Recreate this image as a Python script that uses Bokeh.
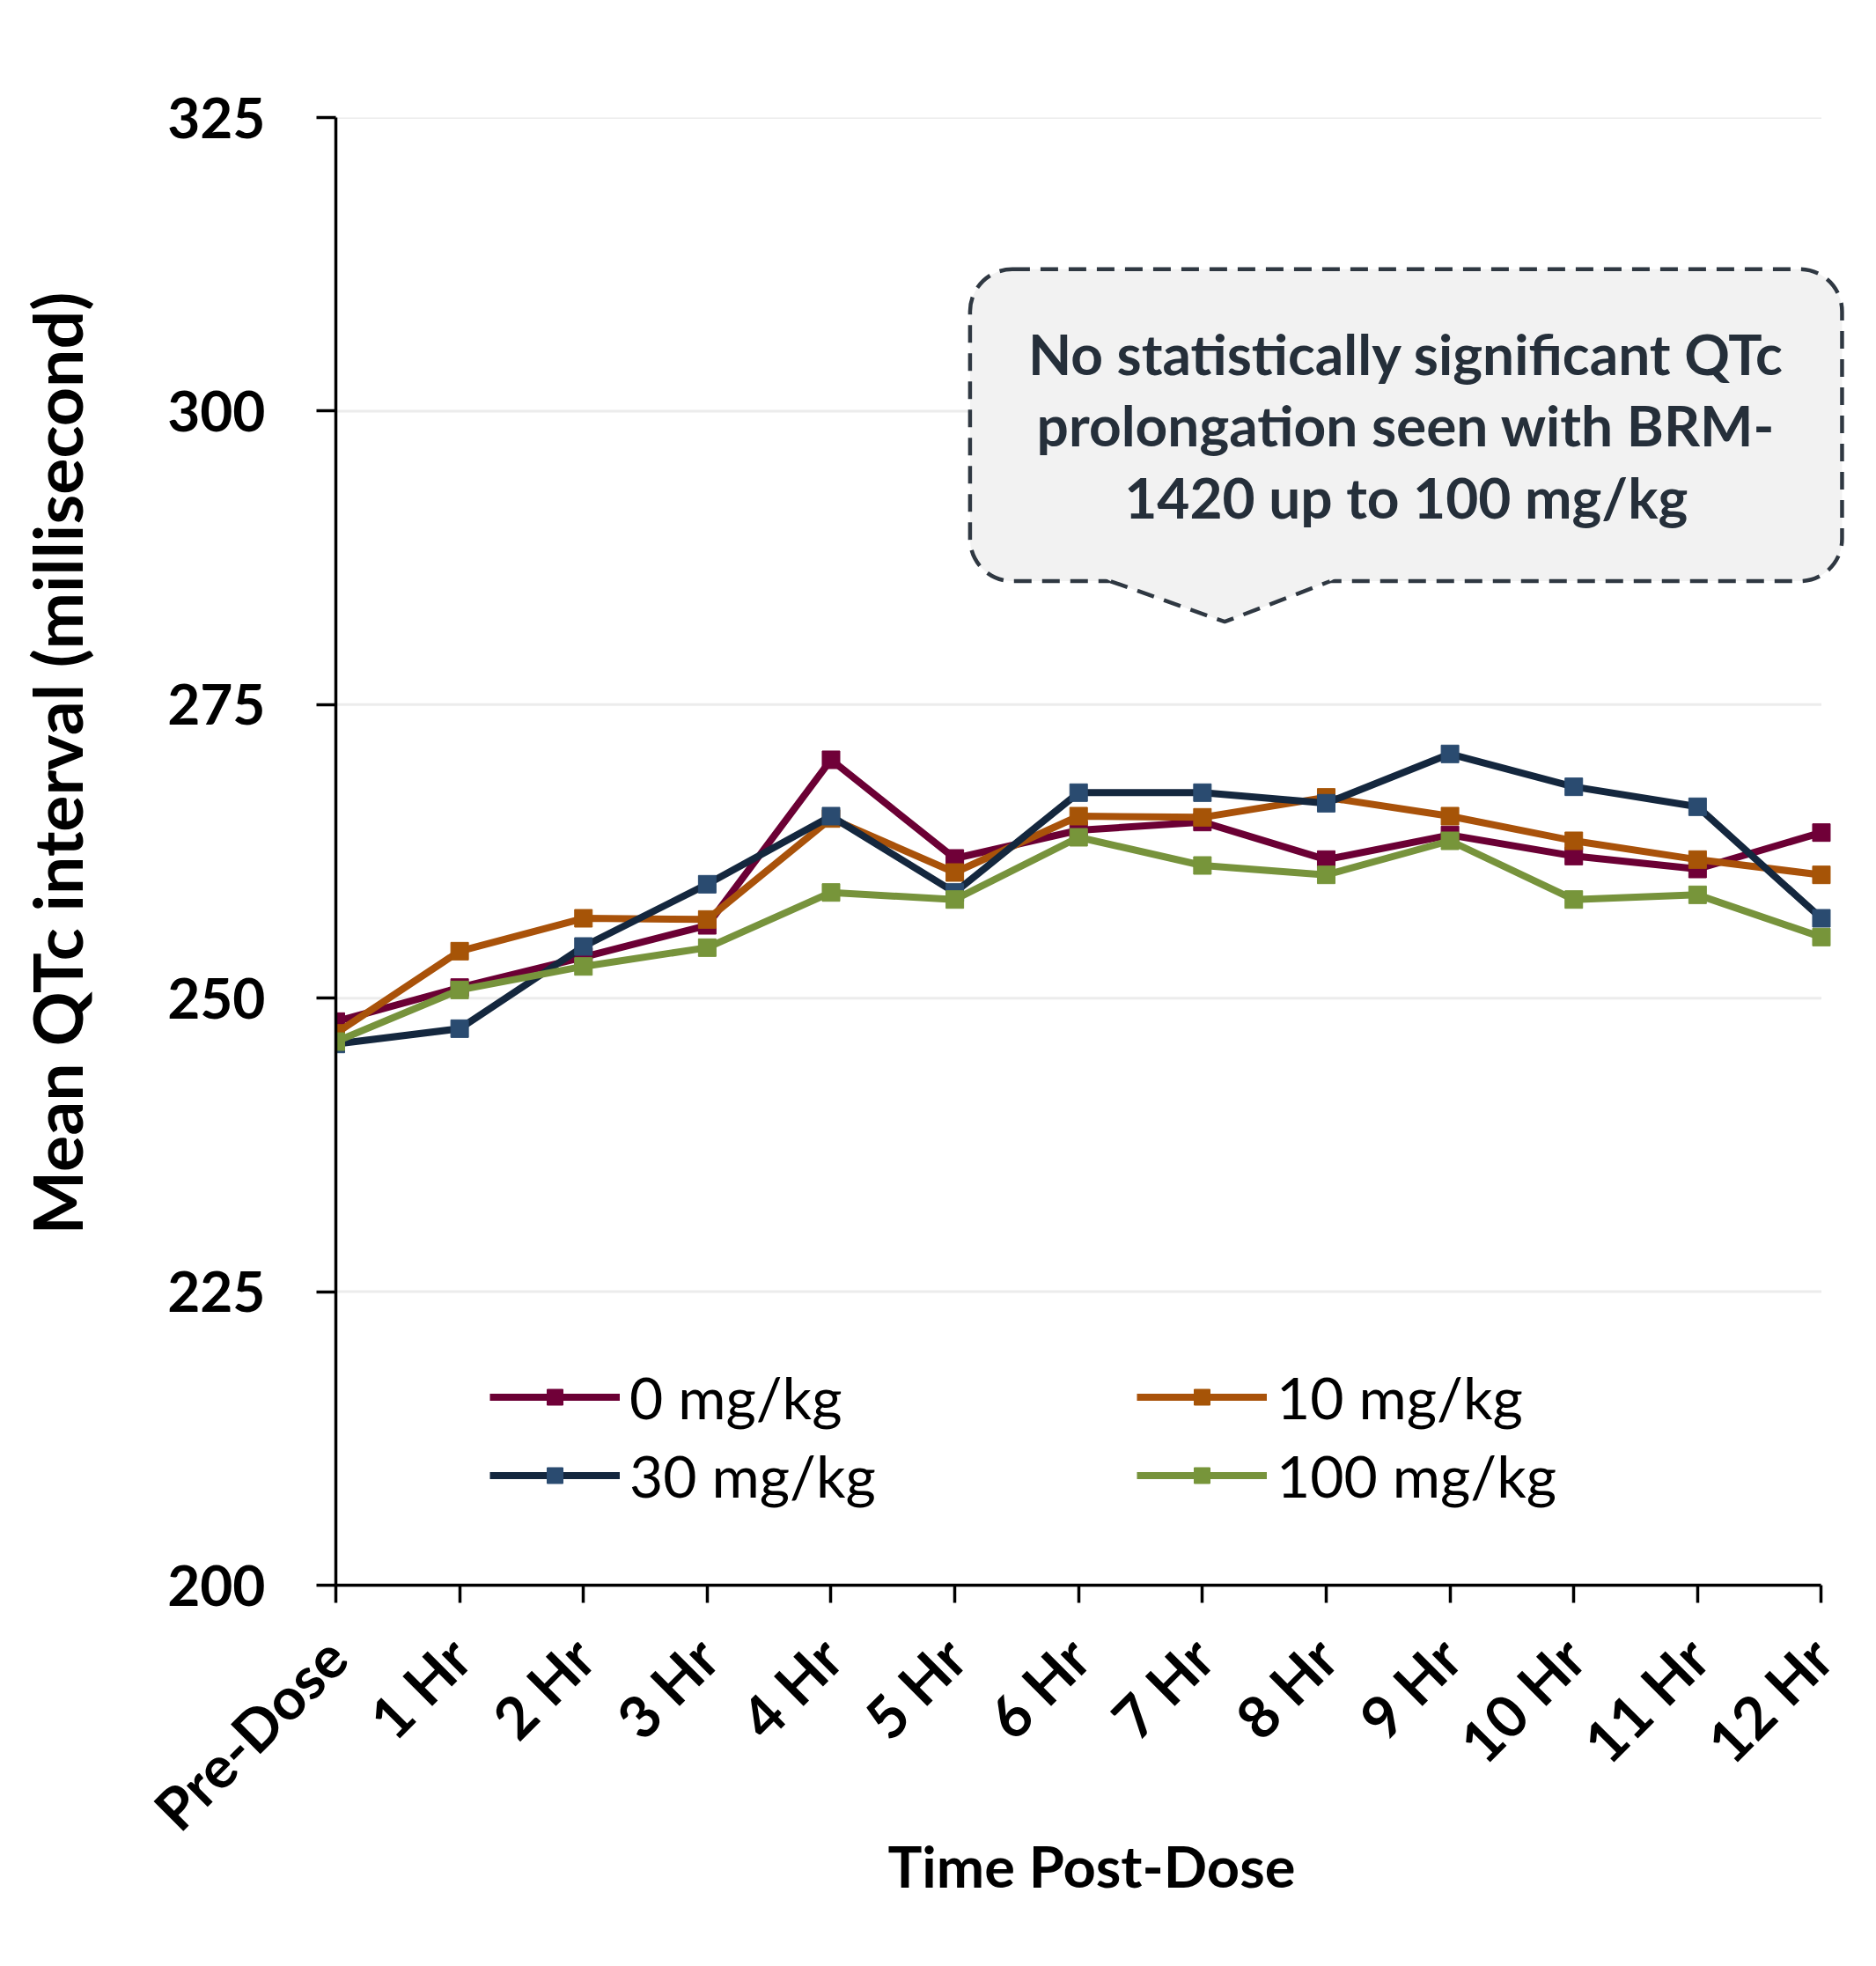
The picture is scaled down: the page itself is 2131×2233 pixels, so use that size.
import math
from bokeh.plotting import figure
from bokeh.models import Range1d, FixedTicker, Legend, LegendItem, Label, LinearAxis, Title
from bokeh.embed import file_html
from bokeh.resources import INLINE

# ---- data ----
time_labels = ["Pre-Dose", "1 Hr", "2 Hr", "3 Hr", "4 Hr", "5 Hr", "6 Hr",
               "7 Hr", "8 Hr", "9 Hr", "10 Hr", "11 Hr", "12 Hr"]
time_idx = list(range(len(time_labels)))
qtc_0mg = [248.0, 250.9, 253.5, 256.2, 270.3, 261.9, 264.3, 265.0, 261.8, 263.9, 262.1, 261.0, 264.1]
qtc_10mg = [247.0, 254.0, 256.8, 256.7, 265.3, 260.7, 265.5, 265.4, 267.1, 265.5, 263.4, 261.8, 260.5]
qtc_30mg = [246.1, 247.4, 254.4, 259.7, 265.5, 259.0, 267.5, 267.5, 266.6, 270.8, 268.0, 266.3, 256.8]
qtc_100mg = [246.3, 250.7, 252.7, 254.3, 259.0, 258.4, 263.7, 261.3, 260.5, 263.4, 258.4, 258.8, 255.2]
series_names = ["0 mg/kg", "10 mg/kg", "30 mg/kg", "100 mg/kg"]
y_ticks = [200, 225, 250, 275, 300, 325]
y_title = "Mean QTc interval (millisecond)"
x_title = "Time Post-Dose"
note_text = "No statistically significant QTc\nprolongation seen with BRM-\n1420 up to 100 mg/kg"

# ---- styles ----
line_colors = ["#6b0034", "#a9520a", "#14273e", "#77933c"]
marker_colors = ["#700038", "#a65407", "#2a4b70", "#77953a"]
FONT = "Lato"
x_first, x_last = time_idx[0], time_idx[-1]

p = figure(width=2115, height=2210, output_backend="svg", toolbar_location=None,
           x_range=Range1d(x_first, x_last + 0.21), y_range=Range1d(200, 325),
           min_border_left=381, min_border_top=133, min_border_right=17,
           min_border_bottom=410)
p.outline_line_color = None
p.background_fill_color = "white"
p.border_fill_color = "white"

# grid (drawn only across the category span)
p.xgrid.grid_line_color = None
p.ygrid.grid_line_color = None
p.segment(x0=[x_first] * len(y_ticks), y0=y_ticks, x1=[x_last] * len(y_ticks), y1=y_ticks,
          line_color="#ececec", line_width=3, level="underlay")

# axes
p.xaxis.ticker = FixedTicker(ticks=time_idx)
p.xaxis.bounds = (x_first, x_last)
p.xaxis.major_label_overrides = {i: lab for i, lab in zip(time_idx, time_labels)}
p.xaxis.major_label_orientation = math.pi / 4
p.yaxis.ticker = FixedTicker(ticks=y_ticks)
for ax in (p.xaxis[0], p.yaxis[0]):
    ax.axis_line_color = "black"
    ax.axis_line_width = 3.5
    ax.major_tick_line_color = "black"
    ax.major_tick_line_width = 3.5
    ax.major_tick_in = 0
    ax.minor_tick_line_color = None
    ax.major_label_text_font = FONT
    ax.major_label_text_font_style = "bold"
    ax.major_label_text_color = "black"
    ax.axis_label_text_font = FONT
    ax.axis_label_text_font_style = "bold"
    ax.axis_label_text_color = "black"
p.yaxis.major_label_text_font_size = "64px"
p.xaxis.major_label_text_font_size = "66px"
p.yaxis.major_tick_out = 22
p.xaxis.major_tick_out = 20
p.yaxis.major_label_standoff = 58
p.xaxis.major_label_standoff = 50
p.xaxis.axis_label = x_title
p.xaxis.axis_label_text_font_size = "65px"
p.xaxis.axis_label_standoff = -44

# invisible spacer between the y tick labels and the y title
spacer = LinearAxis(ticker=FixedTicker(ticks=[y_ticks[0]]), axis_line_color=None,
                    major_tick_line_color=None, minor_tick_line_color=None,
                    major_tick_in=0, major_tick_out=73, minor_tick_out=0,
                    major_label_standoff=0,
                    major_label_overrides={y_ticks[0]: ""})
p.add_layout(spacer, "left")
# y title, placed a little above the frame centre like the original
p.add_layout(Title(text=y_title, align="left", offset=398, standoff=10,
                   text_font=FONT, text_font_style="bold", text_font_size="77px",
                   text_color="black"), "left")

# series
all_series = [qtc_0mg, qtc_10mg, qtc_30mg, qtc_100mg]
items = []
for name, vals, lc, mc in zip(series_names, all_series, line_colors, marker_colors):
    l = p.line(time_idx, vals, line_color=lc, line_width=8)
    m = p.scatter(time_idx, vals, marker="square", size=20, fill_color=mc, line_color=mc)
    items.append(LegendItem(label=name, renderers=[l, m]))

# legends (2 x 2)
legend_pos = [(175, 174), (910, 174), (175, 85), (910, 85)]
for it, pos in zip(items, legend_pos):
    lg = Legend(items=[it], location=pos, orientation="horizontal",
                background_fill_alpha=0, border_line_color=None,
                padding=0, margin=0, spacing=0,
                glyph_width=148, glyph_height=45, label_height=45,
                label_standoff=11, label_text_font=FONT,
                label_text_font_size="66px", label_text_color="black")
    p.add_layout(lg)

# callout
note = Label(x=8.645, y=298.8, text=note_text, anchor="center", text_align="center",
             text_font=FONT, text_font_style="bold", text_font_size="64px",
             text_color="#252f3a", text_line_height=1.06,
             background_fill_color="#f2f2f2", border_line_color="#2f3842",
             border_line_width=4.5, border_line_dash="20 12",
             border_radius=48, padding=dict(left=66, right=66, top=57, bottom=57))
p.add_layout(note)
tail_x = [6.26, 7.18, 8.03]
tail_y = [285.5, 282.06, 285.5]
p.patch([6.2, 6.26, 7.18, 8.03, 8.09], [285.85, 285.5, 282.06, 285.5, 285.85],
        fill_color="#f2f2f2", line_color=None, level="overlay")
p.line(tail_x, tail_y, line_color="#2f3842", line_width=4.5, line_dash="20 12",
       level="overlay")

open("out.html", "w").write(file_html(p, INLINE))
